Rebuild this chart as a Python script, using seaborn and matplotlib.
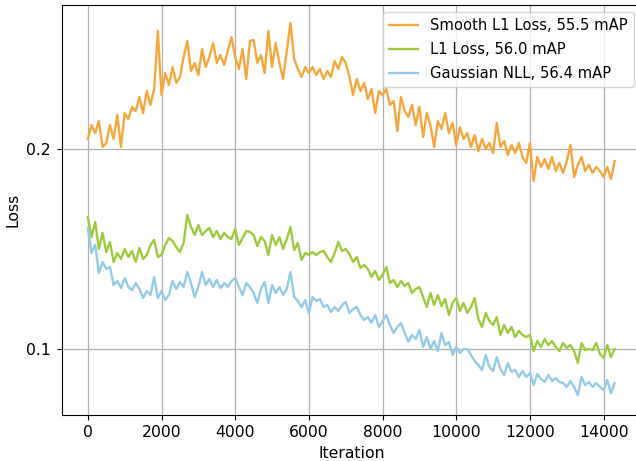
import numpy as np
import pandas as pd
import matplotlib
matplotlib.use("Agg")
import matplotlib.pyplot as plt
import seaborn as sns

# iteration axis, one logged point every 100 iterations
iterations = list(range(0, 14400, 100))

smooth_l1 = [
    0.205, 0.212, 0.208, 0.214, 0.201, 0.203, 0.212, 0.205, 0.217, 0.201,
    0.218, 0.215, 0.221, 0.219, 0.226, 0.218, 0.229, 0.222, 0.230, 0.259,
    0.227, 0.238, 0.232, 0.241, 0.233, 0.236, 0.246, 0.254, 0.239, 0.243,
    0.237, 0.250, 0.241, 0.246, 0.253, 0.243, 0.247, 0.242, 0.249, 0.256,
    0.246, 0.240, 0.250, 0.235, 0.254, 0.2545, 0.243, 0.247, 0.238, 0.259,
    0.241, 0.253, 0.243, 0.235, 0.249, 0.263, 0.245, 0.240, 0.236, 0.241,
    0.238, 0.241, 0.237, 0.240, 0.235, 0.239, 0.236, 0.244, 0.240, 0.246,
    0.243, 0.236, 0.227, 0.235, 0.229, 0.233, 0.225, 0.230, 0.218, 0.229,
    0.227, 0.230, 0.222, 0.224, 0.209, 0.226, 0.219, 0.216, 0.222, 0.212,
    0.221, 0.206, 0.218, 0.212, 0.201, 0.214, 0.210, 0.218, 0.208, 0.213,
    0.202, 0.211, 0.205, 0.208, 0.201, 0.207, 0.199, 0.205, 0.200, 0.203,
    0.198, 0.213, 0.201, 0.204, 0.197, 0.202, 0.198, 0.203, 0.196, 0.193,
    0.203, 0.184, 0.196, 0.191, 0.195, 0.190, 0.196, 0.189, 0.193, 0.188,
    0.194, 0.202, 0.186, 0.192, 0.196, 0.189, 0.192, 0.188, 0.191, 0.189,
    0.186, 0.191, 0.185, 0.194,
]

l1 = [
    0.166, 0.156, 0.1635, 0.150, 0.158, 0.1485, 0.1535, 0.1435, 0.148, 0.145,
    0.150, 0.146, 0.149, 0.1435, 0.1505, 0.145, 0.147, 0.152, 0.1545, 0.146,
    0.147, 0.152, 0.1555, 0.154, 0.151, 0.1485, 0.153, 0.167, 0.161, 0.157,
    0.162, 0.157, 0.159, 0.1605, 0.156, 0.159, 0.155, 0.158, 0.156, 0.155,
    0.160, 0.152, 0.1555, 0.159, 0.1585, 0.157, 0.1515, 0.156, 0.154, 0.147,
    0.157, 0.152, 0.156, 0.150, 0.155, 0.161, 0.1495, 0.153, 0.1445, 0.148,
    0.147, 0.1485, 0.147, 0.1485, 0.149, 0.146, 0.1435, 0.148, 0.1535, 0.149,
    0.150, 0.1475, 0.1435, 0.146, 0.1405, 0.142, 0.140, 0.136, 0.139, 0.1345,
    0.137, 0.141, 0.133, 0.1345, 0.131, 0.134, 0.1315, 0.133, 0.128, 0.130,
    0.131, 0.126, 0.121, 0.128, 0.122, 0.127, 0.1215, 0.125, 0.117, 0.123,
    0.1255, 0.119, 0.123, 0.118, 0.121, 0.1255, 0.115, 0.111, 0.118, 0.114,
    0.112, 0.116, 0.107, 0.112, 0.108, 0.111, 0.106, 0.109, 0.107, 0.106,
    0.107, 0.099, 0.104, 0.101, 0.105, 0.102, 0.104, 0.101, 0.099, 0.103,
    0.1005, 0.102, 0.099, 0.093, 0.103, 0.0995, 0.100, 0.0995, 0.103, 0.0975,
    0.0955, 0.102, 0.096, 0.100,
]

gaussian_nll = [
    0.1605, 0.148, 0.152, 0.138, 0.1435, 0.140, 0.141, 0.132, 0.134, 0.1305,
    0.1355, 0.131, 0.1295, 0.133, 0.130, 0.1255, 0.129, 0.127, 0.136, 0.1255,
    0.129, 0.1245, 0.127, 0.134, 0.130, 0.1335, 0.131, 0.1385, 0.133, 0.126,
    0.131, 0.1385, 0.132, 0.135, 0.131, 0.1345, 0.1305, 0.133, 0.131, 0.134,
    0.1355, 0.131, 0.127, 0.133, 0.131, 0.128, 0.123, 0.130, 0.1335, 0.123,
    0.132, 0.128, 0.131, 0.127, 0.130, 0.1385, 0.126, 0.124, 0.121, 0.1245,
    0.118, 0.126, 0.124, 0.125, 0.121, 0.122, 0.1185, 0.121, 0.119, 0.122,
    0.1235, 0.118, 0.120, 0.121, 0.117, 0.1145, 0.116, 0.113, 0.117, 0.111,
    0.114, 0.117, 0.112, 0.108, 0.111, 0.113, 0.108, 0.1035, 0.107, 0.105,
    0.1095, 0.101, 0.106, 0.100, 0.104, 0.099, 0.108, 0.102, 0.1035, 0.097,
    0.101, 0.098, 0.100, 0.100, 0.097, 0.094, 0.092, 0.0895, 0.097, 0.091,
    0.089, 0.096, 0.090, 0.087, 0.093, 0.0885, 0.0895, 0.086, 0.089, 0.086,
    0.088, 0.082, 0.0875, 0.085, 0.0835, 0.087, 0.084, 0.0855, 0.0835, 0.083,
    0.081, 0.084, 0.081, 0.077, 0.086, 0.082, 0.0835, 0.081, 0.083, 0.081,
    0.0795, 0.0845, 0.078, 0.083,
]

series_names = ["Smooth L1 Loss, 55.5 mAP", "L1 Loss, 56.0 mAP", "Gaussian NLL, 56.4 mAP"]
series_colors = ["#F5A73B", "#9DCA3C", "#92CBE8"]

df = pd.concat([
    pd.DataFrame({"Iteration": iterations, "Loss": vals, "method": name})
    for name, vals in zip(series_names, [smooth_l1, l1, gaussian_nll])
])

# original was rendered a bit larger and then cropped, so scale up text
scale = 1.125
plt.rcParams.update({
    "font.size": 10 * scale,
    "xtick.major.size": 3.5 * scale,
    "ytick.major.size": 3.5 * scale,
})

fig = plt.figure(figsize=(6.36, 4.61), dpi=100)
# right spine falls just outside the cropped picture
ax = fig.add_axes([61.5 / 636, 46 / 461, (641 - 61.5) / 636, 410 / 461])

sns.lineplot(data=df, x="Iteration", y="Loss", hue="method",
             hue_order=series_names, palette=series_colors,
             linewidth=1.5 * scale, ax=ax)

ax.set_xlim(-715, 15015)
ax.set_ylim(0.067, 0.272)
ax.set_xticks(range(0, 14001, 2000))
ax.set_yticks([0.1, 0.2])
ax.grid(True, color="#b0b0b0", linewidth=0.8 * scale)
ax.set_axisbelow(True)
ax.legend(loc="upper right", fontsize=10.6, labelspacing=0.6)

fig.savefig("out.png", dpi=100)
